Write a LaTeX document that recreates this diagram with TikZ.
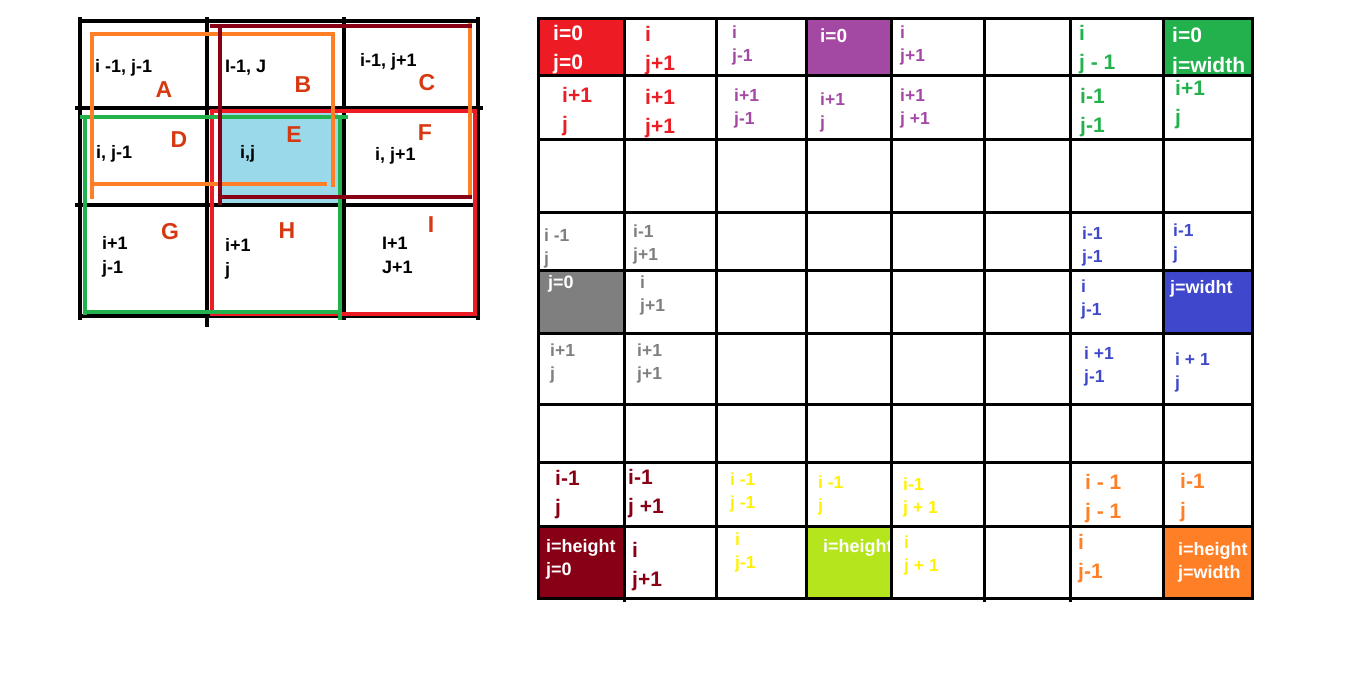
\documentclass[tikz,border=0pt]{standalone}
\usepackage{fontspec}
\setmainfont{Liberation Sans}
\definecolor{pred}{RGB}{237,28,36}
\definecolor{ppurple}{RGB}{163,73,164}
\definecolor{pgreen}{RGB}{34,177,76}
\definecolor{pgray}{RGB}{127,127,127}
\definecolor{pblue}{RGB}{63,72,204}
\definecolor{pdarkred}{RGB}{136,0,21}
\definecolor{pyellow}{RGB}{255,242,0}
\definecolor{plime}{RGB}{181,230,29}
\definecolor{porange}{RGB}{255,127,39}
\definecolor{pturq}{RGB}{153,217,234}
\definecolor{pletter}{RGB}{214,57,18}
\tikzset{
  gridline/.style={line width=3pt, line cap=rect},
  boxline/.style={line width=4pt, line cap=rect},
  idx/.style={anchor=west, inner sep=0pt, align=left, font=\bfseries\fontsize{18}{24}\selectfont},
  letter/.style={text=pletter, inner sep=0pt, font=\bfseries\fontsize{23}{23}\selectfont},
  small/.style={anchor=west, inner sep=0pt, yshift=-2pt, align=left, font=\bfseries\fontsize{17.5}{23}\selectfont},
  big/.style={anchor=west, inner sep=0pt, yshift=-2pt, align=left, font=\bfseries\fontsize{21}{29}\selectfont},
  corner/.style={anchor=west, inner sep=0pt, yshift=-2pt, align=left, text=white, font=\bfseries\fontsize{18}{23}\selectfont}
}
\begin{document}
\begin{tikzpicture}[x=1pt, y=-1pt]
           \useasboundingbox (0,0) rectangle (1353,677);
           \fill[white] (0,0) rectangle (1353,677);

           \fill[pturq] (218,112) rectangle (338,205);
           \draw[boxline] (80,21) -- (478,21) (77,108) -- (481,108) (77,205) -- (478,205) (80,316) -- (478,316)
                          (80,19) -- (80,318) (207,19) -- (207,325) (344,19) -- (344,318) (478,19) -- (478,318);
           \draw[boxline, pred] (212,111) rectangle (475,314);
           \draw[boxline, pgreen] (82,117) -- (346,117) (85,117) -- (85,313) (340,117) -- (340,318) (85,312) -- (340,312);
           \draw[boxline, porange] (92,197) -- (92,34) -- (333,34) -- (333,185) (92,184) -- (325,184) (470,25) -- (470,195);
           \draw[boxline, pdarkred] (212,26) -- (470,26) (220,26) -- (220,203) (220,197) -- (470,197);

           \node[idx] (nw) at (95,68) {i -1, j-1};
           \node[idx] (n) at (225,68) {I-1, J};
           \node[idx] (ne) at (360,62) {i-1, j+1};
           \node[idx] (w) at (96,154) {i, j-1};
           \node[idx] (mid) at (240,154) {i,j};
           \node[idx] (e) at (375,156) {i, j+1};
           \node[idx] (sw) at (102,257) {i+1\\j-1};
           \node[idx] (s) at (225,259) {i+1\\j};
           \node[idx] (se) at (382,255) {I+1\\J+1};

           \node[letter] (A) at (164,90) {A};
           \node[letter] (B) at (303,85) {B};
           \node[letter] (C) at (427,83) {C};
           \node[letter] (D) at (179,140) {D};
           \node[letter] (E) at (294,135) {E};
           \node[letter] (F) at (425,133) {F};
           \node[letter] (G) at (170,232) {G};
           \node[letter] (H) at (287,231) {H};
           \node[letter] (I) at (431,225) {I};

           \fill[pred] (538,19) rectangle (624,76);
           \fill[ppurple] (806,19) rectangle (891,76);
           \fill[pgreen] (1163,19) rectangle (1252,76);
           \fill[pgray] (538,270) rectangle (624,333);
           \fill[pblue] (1163,270) rectangle (1252,333);
           \fill[pdarkred] (538,526) rectangle (624,598);
           \fill[plime] (806,526) rectangle (891,598);
           \fill[porange] (1163,526) rectangle (1252,598);

           \node[corner, font=\bfseries\fontsize{21}{29}\selectfont] (c11) at (553,48) {i=0\\j=0};
           \node[big, text=pred] (c12) at (645,49) {i\\j+1};
           \node[small, text=ppurple] (c13) at (732,43) {i\\j-1};
           \node[corner, font=\bfseries\fontsize{19}{23}\selectfont] (c14) at (820,34) {i=0};
           \node[small, text=ppurple] (c15) at (900,43) {i\\j+1};
           \node[big, text=pgreen] (c17) at (1079,48) {i\\j - 1};
           \node[corner, font=\bfseries\fontsize{21}{30}\selectfont] (c18) at (1172,50) {i=0\\j=width};
           \node[big, text=pred] (c21) at (562,110) {i+1\\j};
           \node[big, text=pred] (c22) at (645,112) {i+1\\j+1};
           \node[small, text=ppurple] (c23) at (734,106) {i+1\\j-1};
           \node[small, text=ppurple] (c24) at (820,110) {i+1\\j};
           \node[small, text=ppurple] (c25) at (900,106) {i+1\\j +1};
           \node[big, text=pgreen] (c27) at (1080,111) {i-1\\j-1};
           \node[big, text=pgreen] (c28) at (1175,103) {i+1\\j};

           \node[small, text=pgray] (c41) at (544,246) {i -1\\j};
           \node[small, text=pgray] (c42) at (633,242) {i-1\\j+1};
           \node[corner] (c51) at (548,282) {j=0};
           \node[small, text=pgray] (c52) at (640,293) {i\\j+1};
           \node[small, text=pgray] (c61) at (550,361) {i+1\\j};
           \node[small, text=pgray] (c62) at (637,361) {i+1\\j+1};
           \node[small, text=pblue] (c47) at (1082,244) {i-1\\j-1};
           \node[small, text=pblue] (c48) at (1173,241) {i-1\\j};
           \node[small, text=pblue] (c57) at (1081,297) {i\\j-1};
           \node[corner] (c58) at (1170,287) {j=widht};
           \node[small, text=pblue] (c67) at (1084,364) {i +1\\j-1};
           \node[small, text=pblue] (c68) at (1175,370) {i + 1\\j};

           \node[big, text=pdarkred] (c81) at (555,493) {i-1\\j};
           \node[big, text=pdarkred] (c82) at (628,492) {i-1\\j +1};
           \node[small, text=pyellow] (c83) at (730,490) {i -1\\j -1};
           \node[small, text=pyellow] (c84) at (818,493) {i -1\\j};
           \node[small, text=pyellow] (c85) at (903,495) {i-1\\j + 1};
           \node[big, text=porange] (c87) at (1085,497) {i - 1\\j - 1};
           \node[big, text=porange] (c88) at (1180,496) {i-1\\j};
           \node[corner] (c91) at (546,557) {i=height\\j=0};
           \node[big, text=pdarkred] (c92) at (632,565) {i\\j+1};
           \node[small, text=pyellow] (c93) at (735,550) {i\\j-1};
           \node[corner] (c94) at (823,546) {i=height};
           \node[small, text=pyellow] (c95) at (904,553) {i\\j + 1};
           \node[big, text=porange] (c97) at (1078,557) {i\\j-1};
           \node[corner] (c98) at (1178,560) {i=height\\j=width};

           \draw[gridline] (538,19) -- (1252,19) (538,76) -- (1252,76) (538,139) -- (1252,139)
                           (538,212) -- (1252,212) (538,270) -- (1252,270) (538,333) -- (1252,333)
                           (538,404) -- (1252,404) (538,462) -- (1252,462) (538,526) -- (1252,526)
                           (538,598) -- (1252,598);
           \draw[gridline] (538,19) -- (538,598) (624,19) -- (624,600) (716,19) -- (716,598)
                           (806,19) -- (806,598) (891,19) -- (891,598) (984,19) -- (984,600)
                           (1070,19) -- (1070,600) (1163,19) -- (1163,598) (1252,19) -- (1252,598);
       \end{tikzpicture}
\end{document}
